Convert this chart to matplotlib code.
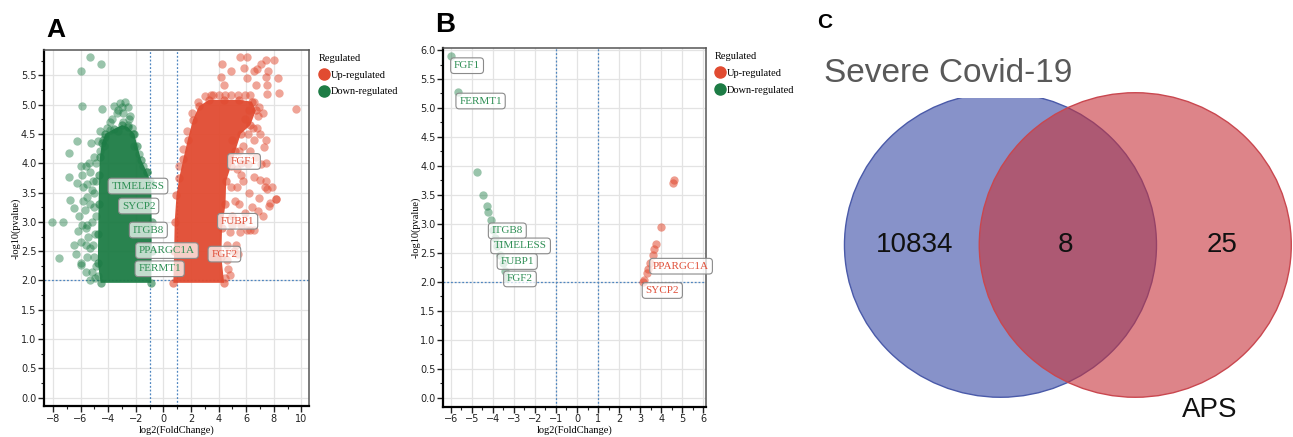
import matplotlib
matplotlib.use('Agg')
import matplotlib.pyplot as plt
from matplotlib.lines import Line2D
from matplotlib.patches import Circle
from matplotlib.ticker import MultipleLocator, FormatStrFormatter

# ---- panel A: volcano, all genes ----
up_a_core = [(0.72, 1.96), (0.78, 2.5), (0.82, 3.0), (0.95, 3.45), (1.15, 3.75), (1.45, 4.08),
             (1.77, 4.4), (2.14, 4.74), (2.58, 4.97), (3.3, 5.08), (4.4, 5.08), (5.5, 5.08),
             (6.4, 5.05), (6.7, 4.9), (6.3, 4.65), (5.6, 4.5), (5.2, 4.2), (4.9, 3.95),
             (4.55, 3.7), (4.5, 3.3), (4.25, 2.9), (4.2, 2.4), (4.4, 1.96)]
down_a_core = [(-0.88, 1.96), (-4.55, 1.96), (-4.75, 2.3), (-4.72, 2.8), (-4.7, 3.3),
               (-4.65, 3.8), (-4.6, 4.1), (-4.45, 4.35), (-4.2, 4.5), (-3.6, 4.58),
               (-3.0, 4.65), (-2.6, 4.62), (-2.1, 4.5), (-1.9, 4.3), (-1.6, 4.05),
               (-1.2, 3.85), (-0.88, 3.65), (-0.85, 3.0), (-0.85, 2.5)]
up_a_pts = [(5.58, 5.81), (6.06, 5.81), (4.27, 5.69), (4.93, 5.58), (5.82, 5.62), (6.54, 5.58),
            (6.78, 5.6), (7.1, 5.69), (7.41, 5.76), (7.99, 5.76), (7.58, 5.58), (8.3, 5.45),
            (7.46, 5.47), (4.2, 5.47), (6.09, 5.45), (6.69, 5.34), (7.51, 5.34), (4.37, 5.34),
            (7.51, 5.18), (8.38, 5.19), (3.43, 5.17), (9.59, 4.92), (7.29, 4.27), (6.86, 4.8),
            (6.2, 4.9), (5.9, 4.75), (6.5, 4.6), (7.0, 4.5), (6.6, 4.4), (7.46, 3.69),
            (7.5, 3.56), (8.14, 3.39), (7.68, 3.27), (6.86, 3.19), (6.06, 2.86), (6.6, 2.86),
            (5.29, 2.6), (6.56, 3.77), (6.1, 3.98), (7.07, 3.98), (5.6, 4.0), (5.8, 3.7),
            (6.2, 3.5), (5.5, 3.3), (6.98, 3.71), (7.34, 3.6), (8.19, 3.39), (7.7, 3.32),
            (6.25, 2.86), (5.53, 2.83), (4.8, 2.83), (5.41, 2.46), (4.7, 2.2), (4.6, 2.6),
            (5.0, 3.1), (5.3, 3.6), (5.0, 4.4), (5.5, 4.2), (4.44, 5.17), (4.9, 5.17),
            (5.4, 5.17), (5.9, 5.17), (6.25, 5.17), (1.1, 3.95), (1.4, 4.25), (1.7, 4.55),
            (2.1, 4.85), (2.5, 5.05), (3.0, 5.15), (3.6, 5.17), (4.0, 5.17), (6.6, 5.05),
            (6.9, 4.95), (7.2, 4.85), (6.8, 4.6), (7.4, 4.4), (6.1, 4.5), (5.8, 4.3),
            (6.3, 4.2), (6.7, 4.1), (5.3, 3.9), (5.6, 3.8), (6.9, 3.4), (6.4, 3.25),
            (5.9, 3.15), (5.2, 3.35), (4.9, 3.6), (5.6, 2.95), (5.0, 2.95), (4.6, 2.35),
            (4.5, 2.05), (4.8, 2.1), (5.1, 2.5), (7.2, 3.1), (7.9, 3.6), (7.4, 4.0)]
down_a_pts = [(-5.33, 5.81), (-4.54, 5.69), (-5.99, 5.58), (-5.87, 4.97), (-4.42, 4.93),
              (-6.26, 4.37), (-6.86, 4.17), (-5.22, 4.35), (-4.75, 4.37), (-4.4, 4.4),
              (-3.9, 4.57), (-3.6, 4.98), (-3.15, 5.02), (-2.75, 5.05), (-3.0, 4.95),
              (-2.6, 4.95), (-2.4, 4.8), (-2.55, 4.65), (-3.35, 4.85), (-3.7, 4.75),
              (-6.84, 3.77), (-6.24, 3.66), (-8.05, 3.0), (-7.25, 3.0), (-7.54, 2.38),
              (-6.75, 3.37), (-6.45, 3.23), (-5.8, 3.35), (-5.5, 3.42), (-5.3, 3.3),
              (-6.5, 2.6), (-6.3, 2.46), (-5.94, 2.26), (-5.6, 2.6), (-5.5, 2.4), (-5.0, 2.4),
              (-4.9, 2.25), (-4.74, 2.07), (-5.6, 3.95), (-5.3, 3.85), (-5.5, 3.65),
              (-5.1, 3.7), (-6.1, 3.1), (-5.9, 2.95), (-5.6, 2.9), (-5.45, 2.75), (-5.2, 3.0),
              (-4.95, 2.8), (-4.9, 3.1), (-5.0, 3.5), (-4.85, 4.0), (-6.0, 2.3), (-5.6, 2.15),
              (-5.2, 2.15), (-2.9, 4.7), (-2.2, 4.5), (-4.2, 4.45), (-3.3, 4.55),
              (-4.3, 4.3), (-4.6, 4.2), (-5.0, 4.1), (-5.4, 4.0), (-5.2, 3.55), (-5.8, 3.6),
              (-5.9, 3.8), (-6.0, 3.95), (-5.7, 3.2), (-5.3, 2.55), (-5.1, 2.6), (-4.95, 2.05),
              (-5.3, 2.0), (-5.0, 3.25), (-4.85, 3.7), (-5.5, 2.95), (-6.2, 2.85),
              (-5.95, 2.65), (-3.3, 4.9), (-2.9, 4.85), (-2.5, 4.75), (-2.3, 4.6), (-3.9, 4.7),
              (-4.1, 4.6), (-4.6, 4.55), (-2.1, 4.3), (-1.8, 4.15), (-1.5, 3.95), (-1.2, 3.85),
              (-0.95, 3.7)]
lab_a_genes = ['TIMELESS', 'SYCP2', 'ITGB8', 'PPARGC1A', 'FERMT1', 'FGF1', 'FUBP1', 'FGF2']
lab_a_x = [-1.84, -1.79, -1.09, 0.26, -0.27, 5.84, 5.38, 4.42]
lab_a_y = [3.61, 3.27, 2.86, 2.51, 2.20, 4.03, 3.01, 2.45]
lab_a_up = [False, False, False, False, False, True, True, True]

# ---- panel B: volcano, shared genes ----
down_b_x = [-6.0, -5.64, -4.73, -4.45, -4.29, -4.21, -4.1, -4.0, -3.9, -3.79, -3.67, -3.53, -3.42, -3.31]
down_b_y = [5.90, 5.28, 3.90, 3.49, 3.31, 3.20, 3.06, 2.90, 2.75, 2.61, 2.46, 2.32, 2.18, 2.06]
up_b_x = [4.62, 4.58, 3.99, 3.75, 3.67, 3.60, 3.47, 3.39, 3.31, 3.20, 3.12]
up_b_y = [3.76, 3.70, 2.94, 2.65, 2.56, 2.46, 2.32, 2.22, 2.16, 2.04, 2.00]
lab_b_genes = ['FGF1', 'FERMT1', 'ITGB8', 'TIMELESS', 'FUBP1', 'FGF2', 'PPARGC1A', 'SYCP2']
lab_b_x = [-5.22, -4.58, -3.31, -2.68, -2.84, -2.71, 4.94, 4.05]
lab_b_y = [5.73, 5.12, 2.88, 2.62, 2.35, 2.05, 2.27, 1.85]
lab_b_up = [False, False, False, False, False, False, True, True]

# ---- panel C: Venn ----
venn_sets = ['Severe Covid-19', 'APS']
venn_counts = [10834, 8, 25]   # only Covid, both, only APS

UP = '#e14b31'
DOWN = '#1d7c45'
UP_TXT = '#e0503a'
DOWN_TXT = '#2f8f55'
THR = '#4f86c0'
SERIF = ['Liberation Serif', 'DejaVu Serif']
SANS = ['Liberation Sans', 'DejaVu Sans']


def unzip(pairs):
    return [p[0] for p in pairs], [p[1] for p in pairs]


def style_volcano(ax, xlim, ylim, xstep):
    ax.set_xlim(*xlim)
    ax.set_ylim(*ylim)
    ax.xaxis.set_major_locator(MultipleLocator(xstep))
    ax.yaxis.set_major_locator(MultipleLocator(0.5))
    ax.xaxis.set_minor_locator(MultipleLocator(xstep / 2))
    ax.yaxis.set_minor_locator(MultipleLocator(0.25))
    ax.yaxis.set_major_formatter(FormatStrFormatter('%.1f'))
    ax.grid(True, which='major', color='#e3e3e3', lw=0.9, zorder=0)
    ax.set_axisbelow(True)
    ax.tick_params(which='major', direction='out', length=4, width=1, labelsize=7, colors='#222222', pad=1.5)
    ax.tick_params(which='minor', direction='out', length=2, width=0.8, color='#222222')
    for s in ['left', 'bottom']:
        ax.spines[s].set_color('black')
        ax.spines[s].set_linewidth(1.6)
    for s in ['top', 'right']:
        ax.spines[s].set_color('#555555')
        ax.spines[s].set_linewidth(1.1)
    for v in (-1, 1):
        ax.axvline(v, color=THR, ls=(0, (1.5, 1.5)), lw=0.9, zorder=1)
    ax.axhline(2, color=THR, ls=(0, (1.5, 1.5)), lw=0.9, zorder=1)
    ax.set_xlabel('log2(FoldChange)', family=SERIF, fontsize=7.5, labelpad=1)
    ax.set_ylabel('-log10(pvalue)', family=SERIF, fontsize=7.5, labelpad=0)
    handles = [Line2D([], [], marker='o', ls='', color=UP, markersize=8),
               Line2D([], [], marker='o', ls='', color=DOWN, markersize=8)]
    leg = ax.legend(handles, ['Up-regulated', 'Down-regulated'], title='Regulated',
                    loc='upper left', bbox_to_anchor=(1.02, 1.0), frameon=False,
                    prop={'family': SERIF, 'size': 7.5}, handletextpad=0.15,
                    handlelength=1.0, borderaxespad=0, labelspacing=0.7,
                    alignment='left')
    leg.get_title().set_fontfamily(SERIF)
    leg.get_title().set_fontsize(7.5)


def add_labels(ax, genes, xs, ys, ups):
    for g, x, y, u in zip(genes, xs, ys, ups):
        ax.text(x, y, g, ha='center', va='center', family=SERIF, fontsize=8,
                color=UP_TXT if u else DOWN_TXT, zorder=6,
                bbox=dict(boxstyle='round,pad=0.3,rounding_size=0.3', fc=(1, 1, 1, 0.72),
                          ec='#8a8a8a', lw=0.8))


fig = plt.figure(figsize=(12.93, 4.37), dpi=100)

# panel A
axA = fig.add_axes([44 / 1293, 31 / 437, 265 / 1293, 356 / 437])
style_volcano(axA, (-8.65, 10.55), (-0.14, 5.93), 2)
ux, uy = unzip(up_a_core)
dx, dy = unzip(down_a_core)
axA.fill(ux, uy, color=UP, alpha=0.95, lw=0, zorder=2)
axA.fill(dx, dy, color=DOWN, alpha=0.95, lw=0, zorder=2)
axA.scatter(ux, uy, s=36, color=UP, alpha=0.6, lw=0, zorder=3)
axA.scatter(dx, dy, s=36, color=DOWN, alpha=0.6, lw=0, zorder=3)
px, py = unzip(up_a_pts)
axA.scatter(px, py, s=36, color=UP, alpha=0.5, lw=0, zorder=3)
px, py = unzip(down_a_pts)
axA.scatter(px, py, s=36, color=DOWN, alpha=0.45, lw=0, zorder=3)
add_labels(axA, lab_a_genes, lab_a_x, lab_a_y, lab_a_up)

# panel B
axB = fig.add_axes([443.3 / 1293, 30.3 / 437, 262.4 / 1293, 358.4 / 437])
style_volcano(axB, (-6.35, 6.11), (-0.155, 6.03), 1)
axB.scatter(down_b_x, down_b_y, s=36, color=DOWN, alpha=0.45, lw=0, zorder=3)
axB.scatter(up_b_x, up_b_y, s=36, color=UP, alpha=0.55, lw=0, zorder=3)
add_labels(axB, lab_b_genes, lab_b_x, lab_b_y, lab_b_up)

# panel C
axC = fig.add_axes([800 / 1293, 0, 493 / 1293, 1])
axC.set_xlim(-1.285, 1.875)
axC.set_ylim(-1.261, 1.609)
axC.axis('off')
gap = 0.864
axC.add_patch(Circle((0, 0), 1, fc='#8792c9', ec='#4a5aa9', lw=1, zorder=1))
axC.add_patch(Circle((gap, 0), 1, fc=(0.78, 0.2, 0.23, 0.6), ec='#c9474f', lw=1, zorder=2))
axC.text(-1.131, 1.129, venn_sets[0], ha='left', va='center', family=SANS, fontsize=24,
         color='#595959', zorder=3, bbox=dict(fc='white', ec='none', pad=6.5))
axC.text(1.343, -1.083, venn_sets[1], ha='center', va='center', family=SANS, fontsize=20,
         color='#111111', zorder=3)
for x, n in zip([-0.548, gap / 2 - 0.014, 1.418], venn_counts):
    axC.text(x, 0.0, str(n), ha='center', va='center', family=SANS, fontsize=20,
             color='#111111', zorder=3)

for lab, x, y, sz in [('A', 46, 18, 19), ('B', 435, 12, 20), ('C', 817, 13, 15)]:
    fig.text(x / 1293, 1 - y / 437, lab, ha='left', va='top', family=SANS,
             fontsize=sz, fontweight='bold')

fig.savefig('out.png', dpi=100)
